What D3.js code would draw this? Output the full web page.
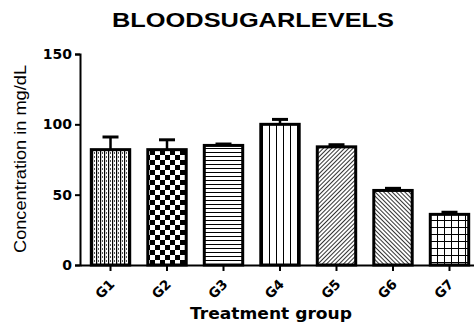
<!DOCTYPE html>
<html>
<head>
<meta charset="utf-8">
<script src="https://cdn.jsdelivr.net/npm/d3@7"></script>
<style>
  body { margin: 0; background: #fff; }
  svg { display: block; }
</style>
</head>
<body>
<script>
// data
const groups = ["G1", "G2", "G3", "G4", "G5", "G6", "G7"];
const means = [82, 82, 85, 100, 84, 53, 36];
const errors = [9, 7, 1, 3.5, 1.5, 1.5, 1.5];
const patternIds = ["pVdash", "pCheck", "pHoriz", "pVert", "pDiagUp", "pDiagDown", "pGrid"];
const yTicks = [0, 50, 100, 150];

const W = 474, H = 324;
const x0 = 80, x1 = 480, y0 = 265, y1 = 54;

const svg = d3.select("body").append("svg")
    .attr("width", W)
    .attr("height", H);

// fill patterns
const defs = svg.append("defs");

let p = defs.append("pattern").attr("id", "pVdash").attr("patternUnits", "userSpaceOnUse")
    .attr("width", 4).attr("height", 4);
p.append("rect").attr("width", 4).attr("height", 4).attr("fill", "#fff");
p.append("rect").attr("x", 0).attr("width", 1.2).attr("height", 4).attr("fill", "#000");
p.append("rect").attr("x", 2).attr("y", 0).attr("width", 1).attr("height", 2).attr("fill", "#555");

p = defs.append("pattern").attr("id", "pCheck").attr("patternUnits", "userSpaceOnUse")
    .attr("width", 10).attr("height", 10);
p.append("rect").attr("width", 10).attr("height", 10).attr("fill", "#fff");
p.append("rect").attr("width", 5).attr("height", 5).attr("fill", "#000");
p.append("rect").attr("x", 5).attr("y", 5).attr("width", 5).attr("height", 5).attr("fill", "#000");

p = defs.append("pattern").attr("id", "pHoriz").attr("patternUnits", "userSpaceOnUse")
    .attr("width", 4).attr("height", 4);
p.append("rect").attr("width", 4).attr("height", 4).attr("fill", "#fff");
p.append("rect").attr("y", 0).attr("width", 4).attr("height", 1).attr("fill", "#000");

p = defs.append("pattern").attr("id", "pVert").attr("patternUnits", "userSpaceOnUse")
    .attr("width", 7).attr("height", 7);
p.append("rect").attr("width", 7).attr("height", 7).attr("fill", "#fff");
p.append("rect").attr("x", 3).attr("width", 1).attr("height", 7).attr("fill", "#000");

p = defs.append("pattern").attr("id", "pDiagUp").attr("patternUnits", "userSpaceOnUse")
    .attr("width", 3).attr("height", 3).attr("patternTransform", "rotate(45)");
p.append("rect").attr("width", 3).attr("height", 3).attr("fill", "#fff");
p.append("rect").attr("width", 1).attr("height", 3).attr("fill", "#333");

p = defs.append("pattern").attr("id", "pDiagDown").attr("patternUnits", "userSpaceOnUse")
    .attr("width", 3).attr("height", 3).attr("patternTransform", "rotate(-45)");
p.append("rect").attr("width", 3).attr("height", 3).attr("fill", "#fff");
p.append("rect").attr("width", 1).attr("height", 3).attr("fill", "#333");

p = defs.append("pattern").attr("id", "pGrid").attr("patternUnits", "userSpaceOnUse")
    .attr("width", 7).attr("height", 7);
p.append("rect").attr("width", 7).attr("height", 7).attr("fill", "#fff");
p.append("rect").attr("x", 3).attr("width", 1).attr("height", 7).attr("fill", "#000");
p.append("rect").attr("y", 3).attr("width", 7).attr("height", 1).attr("fill", "#000");

// scales
const xScale = d3.scaleBand()
    .domain(groups)
    .range([x0, x1])
    .paddingInner(0.32)
    .paddingOuter(0.2);

const yScale = d3.scaleLinear()
    .domain([0, 150])
    .range([y0, y1]);

// title
svg.append("text")
    .attr("x", 253)
    .attr("y", 27)
    .attr("text-anchor", "middle")
    .attr("textLength", 282)
    .attr("lengthAdjust", "spacingAndGlyphs")
    .style("font-family", "'Liberation Sans', Arial, sans-serif")
    .style("font-weight", "bold")
    .style("font-size", "20px")
    .text("BLOODSUGARLEVELS");

// bars
const data = groups.map((g, i) => ({ g: g, v: means[i], e: errors[i], pat: patternIds[i] }));

svg.selectAll("rect.bar")
    .data(data)
    .enter().append("rect")
    .attr("class", "bar")
    .attr("x", d => xScale(d.g))
    .attr("y", d => yScale(d.v))
    .attr("width", xScale.bandwidth())
    .attr("height", d => y0 - yScale(d.v))
    .attr("fill", d => "url(#" + d.pat + ")")
    .attr("stroke", "#000")
    .attr("stroke-width", 3);

// error bars (upper only)
const eb = svg.selectAll("g.err")
    .data(data)
    .enter().append("g")
    .attr("class", "err");

eb.append("line")
    .attr("x1", d => xScale(d.g) + xScale.bandwidth() / 2)
    .attr("x2", d => xScale(d.g) + xScale.bandwidth() / 2)
    .attr("y1", d => yScale(d.v))
    .attr("y2", d => yScale(d.v + d.e))
    .attr("stroke", "#000")
    .attr("stroke-width", 2.5);

eb.append("line")
    .attr("x1", d => xScale(d.g) + xScale.bandwidth() / 2 - 8)
    .attr("x2", d => xScale(d.g) + xScale.bandwidth() / 2 + 8)
    .attr("y1", d => yScale(d.v + d.e))
    .attr("y2", d => yScale(d.v + d.e))
    .attr("stroke", "#000")
    .attr("stroke-width", 3);

// y axis
const yAxis = svg.append("g")
    .attr("transform", "translate(" + x0 + ",0)")
    .call(d3.axisLeft(yScale).tickValues(yTicks).tickSize(5).tickPadding(3));
yAxis.select(".domain").attr("stroke-width", 2);
yAxis.selectAll(".tick line").attr("stroke-width", 2);
yAxis.selectAll("text")
    .style("font-family", "'DejaVu Sans', Verdana, sans-serif")
    .style("font-weight", "bold")
    .style("font-size", "14px")
    .attr("fill", "#000");

// x axis
const xAxis = svg.append("g")
    .attr("transform", "translate(0," + y0 + ")")
    .call(d3.axisBottom(xScale).tickSize(6).tickSizeOuter(0));
xAxis.select(".domain").attr("stroke-width", 2);
xAxis.selectAll(".tick line").attr("stroke-width", 2);
xAxis.selectAll("text")
    .attr("text-anchor", "end")
    .attr("dy", null)
    .attr("x", 0)
    .attr("y", 0)
    .attr("transform", "translate(5,20) rotate(-45)")
    .style("font-family", "'DejaVu Sans', Verdana, sans-serif")
    .style("font-weight", "bold")
    .style("font-size", "13.5px")
    .attr("fill", "#000");

// axis titles
svg.append("text")
    .attr("transform", "translate(26,159) rotate(-90)")
    .attr("text-anchor", "middle")
    .attr("textLength", 188)
    .attr("lengthAdjust", "spacingAndGlyphs")
    .style("font-family", "'Liberation Sans', Arial, sans-serif")
    .style("font-size", "16px")
    .text("Concentration in mg/dL");

svg.append("text")
    .attr("x", 271)
    .attr("y", 319)
    .attr("text-anchor", "middle")
    .attr("textLength", 162)
    .attr("lengthAdjust", "spacingAndGlyphs")
    .style("font-family", "'DejaVu Sans', Verdana, sans-serif")
    .style("font-weight", "bold")
    .style("font-size", "15px")
    .text("Treatment group");
</script>
</body>
</html>
